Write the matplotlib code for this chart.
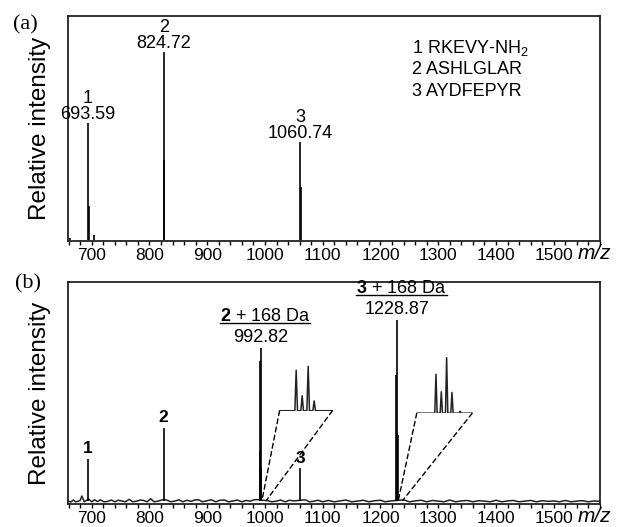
import matplotlib
matplotlib.use('Agg')
import matplotlib.pyplot as plt
from matplotlib.lines import Line2D
from matplotlib.patches import ConnectionPatch
from matplotlib.ticker import MultipleLocator

plt.rcParams['font.family'] = ['Liberation Sans', 'DejaVu Sans']
plt.rcParams['mathtext.fontset'] = 'custom'
plt.rcParams['mathtext.rm'] = 'Liberation Sans'
plt.rcParams['mathtext.bf'] = 'Liberation Sans:bold'
plt.rcParams['mathtext.it'] = 'Liberation Sans:italic'
plt.rcParams['mathtext.default'] = 'regular'

# ---- data
mz_ticks = [700, 800, 900, 1000, 1100, 1200, 1300, 1400, 1500]
mz_range = (659, 1580)

# (a) stick peaks (with isotope shoulders)
a_mz = [662.0, 693.59, 694.59, 704.0, 824.72, 825.72, 1060.74, 1061.74]
a_int = [0.8, 52.1, 15.0, 2.0, 83.8, 35.7, 43.9, 23.8]
a_lab_mz = [693.59, 824.72, 1060.74]
a_lab_int = [52.1, 83.8, 43.9]
a_lab_num = ['693.59', '824.72', '1060.74']
a_lab_idx = ['1', '2', '3']
peptides = ['1 RKEVY-NH$_2$', '2 ASHLGLAR', '3 AYDFEPYR']

# (b) stick peaks
b_mz = [693.59, 824.72, 990.82, 991.82, 992.82, 993.82, 1060.74,
        1226.87, 1227.87, 1228.87, 1229.87]
b_int = [20.3, 34.4, 64.4, 23.8, 70.5, 15.6, 16.1, 58.0, 32.0, 83.0, 31.0]
b_idx_mz = [693.59, 824.72, 1060.74]
b_idx_int = [20.3, 34.4, 16.1]
b_idx = ['1', '2', '3']
b_mod_mz = [992.82, 1228.87]
b_mod_int = [70.5, 83.0]
b_mod_num = ['992.82', '1228.87']
b_mod_head = [r'$\mathbf{2}$ + 168 Da', r'$\mathbf{3}$ + 168 Da']

# (b) baseline noise
noise_mz = [659, 664, 668, 672, 676, 680, 683, 687, 691, 695, 700, 705, 710, 715,
            721, 728, 734, 740, 746, 752, 758, 765, 771, 778, 784, 790, 796,
            802, 808, 815, 822, 830, 837, 845, 851, 858, 865, 872, 878, 885, 892,
            900, 907, 915, 922, 930, 937, 945, 952, 960, 967, 975, 980, 985,
            1005, 1012, 1020, 1027, 1035, 1042, 1050, 1070, 1077, 1085, 1092,
            1100, 1110, 1120, 1130, 1140, 1150, 1160, 1170, 1180, 1190, 1200,
            1208, 1215, 1240, 1250, 1260, 1270, 1280, 1290, 1300, 1310, 1320,
            1330, 1340, 1350, 1360, 1370, 1380, 1390, 1400, 1410, 1420, 1430,
            1440, 1450, 1460, 1470, 1480, 1490, 1500, 1510, 1520, 1530, 1540,
            1550, 1560, 1570, 1580]
noise_int = [1.4, 0.9, 1.8, 1.0, 1.2, 1.6, 3.6, 1.0, 1.7, 2.2, 1.0, 1.9, 1.1, 1.9,
             1.0, 1.2, 1.8, 1.0, 1.7, 1.4, 1.0, 2.1, 1.0, 1.3, 1.8, 1.6, 1.0,
             2.4, 1.0, 1.3, 1.9, 1.8, 1.0, 1.4, 1.9, 1.0, 1.7, 1.2, 1.8, 1.9, 1.0,
             1.5, 1.9, 1.0, 1.7, 1.8, 1.0, 1.4, 1.8, 1.0, 1.6, 1.3, 1.8, 2.0,
             1.5, 1.0, 1.3, 1.8, 1.0, 1.7, 1.4, 1.9, 1.0, 1.3, 1.7,
             1.0, 1.6, 1.0, 1.4, 1.8, 1.0, 1.3, 1.7, 1.0, 1.5, 1.7,
             1.0, 1.3, 1.9, 1.0, 1.4, 1.7, 1.0, 1.6, 1.3, 1.0, 1.8,
             1.0, 1.4, 1.6, 1.0, 1.5, 1.3, 1.0, 1.7, 1.0, 1.4, 1.6,
             1.0, 1.3, 1.6, 1.0, 1.5, 1.2, 1.4, 1.0, 1.6, 1.0, 1.3,
             1.5, 1.0, 1.4, 1.2]

# insets: isotope patterns
ins1_mz = [990.82, 991.82, 992.82, 993.82]
ins1_int = [40.9, 15.1, 44.8, 9.9]
ins2_mz = [1226.87, 1227.87, 1228.87, 1229.87, 1231.4]
ins2_int = [39.3, 21.6, 56.0, 21.0, 2.0]


def style_axes(ax):
    ax.set_xlim(*mz_range)
    ax.set_xticks(mz_ticks)
    ax.xaxis.set_minor_locator(MultipleLocator(20))
    ax.tick_params(axis='x', which='both', direction='out', length=3, width=1,
                   labelsize=12.5, pad=2)
    ax.set_yticks([])
    for s in ax.spines.values():
        s.set_linewidth(1.3)
        s.set_color('#222222')
    ax.set_ylabel('Relative intensity', fontsize=17.5, labelpad=12)
    ax.text(0.958, -0.08, 'm/z', transform=ax.transAxes, fontsize=15,
            style='italic', ha='left', va='baseline')


def profile(mzs, ints, lo, hi, w):
    xs, ys = [lo], [0]
    for m, h in zip(mzs, ints):
        xs += [m - w, m, m + w]
        ys += [0, h, 0]
    xs.append(hi)
    ys.append(0)
    return xs, ys


fig = plt.figure(figsize=(6.2, 5.27), dpi=100)
ax_a = fig.add_axes([0.1097, 0.5427, 0.858, 0.427])
ax_b = fig.add_axes([0.1097, 0.0436, 0.858, 0.421])

# ---- panel (a)
ax_a.vlines(a_mz, 0, a_int, color='black', lw=1.2)
ax_a.set_ylim(-0.5, 100)
style_axes(ax_a)
for m, h, num, idx in zip(a_lab_mz, a_lab_int, a_lab_num, a_lab_idx):
    ax_a.annotate(num, (m, h), xytext=(0, 0), textcoords='offset points',
                  ha='center', va='bottom', fontsize=13)
    ax_a.annotate(idx, (m, h), xytext=(0, 11.5), textcoords='offset points',
                  ha='center', va='bottom', fontsize=13)
for i, p in enumerate(peptides):
    ax_a.text(0.646, [0.8356, 0.7422, 0.6444][i], p, transform=ax_a.transAxes,
              fontsize=13, ha='left', va='baseline')

# ---- panel (b)
ax_b.plot(noise_mz, noise_int, color='#222222', lw=1.1)
ax_b.vlines(b_mz, 1.3, b_int, color='black', lw=1.2)
ax_b.set_ylim(0, 100)
style_axes(ax_b)
for m, h, idx in zip(b_idx_mz, b_idx_int, b_idx):
    ax_b.annotate(idx, (m, h), xytext=(0, 2), textcoords='offset points',
                  ha='center', va='bottom', fontsize=12.5, fontweight='bold')
heads = []
for m, h, num, head in zip(b_mod_mz, b_mod_int, b_mod_num, b_mod_head):
    ax_b.annotate(num, (m, h), xytext=(0, 1.5), textcoords='offset points',
                  ha='center', va='bottom', fontsize=13)
    heads.append(ax_b.annotate(head, (m, h), xytext=(3, 16.5),
                               textcoords='offset points',
                               ha='center', va='bottom', fontsize=13))

insets = [
    ([0.3977, 0.4205, 0.0994, 0.2679], (988.05, 996.87), ins1_mz, ins1_int, 992.82),
    ([0.6556, 0.4094, 0.1043, 0.2679], (1223.27, 1233.67), ins2_mz, ins2_int, 1228.87),
]
for bounds, xl, mzs, ints, parent in insets:
    ins = ax_b.inset_axes(bounds)
    xs, ys = profile(mzs, ints, xl[0], xl[1], 0.22)
    ins.plot(xs, ys, color='#222222', lw=1.1)
    ins.set_xlim(*xl)
    ins.set_ylim(0, 60)
    ins.axis('off')
    for xa, dx in [(0, 2.0), (1, 9.5)]:
        con = ConnectionPatch(xyA=(xa, 0), coordsA=ins.transAxes,
                              xyB=(parent + dx, 1.6), coordsB=ax_b.transData,
                              color='black', lw=1.0, linestyle=(0, (3.5, 2.5)))
        fig.add_artist(con)

# underline the "+168 Da" headers
fig.canvas.draw()
r = fig.canvas.get_renderer()
W, H = fig.bbox.width, fig.bbox.height
for t in heads:
    bb = t.get_window_extent(r)
    y = (bb.y0 + 1.5) / H
    fig.add_artist(Line2D([bb.x0 / W, bb.x1 / W], [y, y], color='black', lw=1.0))

fig.text(0.021, 0.9526, '(a)', family='Liberation Serif', fontsize=16, va='center')
fig.text(0.024, 0.461, '(b)', family='Liberation Serif', fontsize=16, va='center')

fig.savefig('out.png', dpi=100)
